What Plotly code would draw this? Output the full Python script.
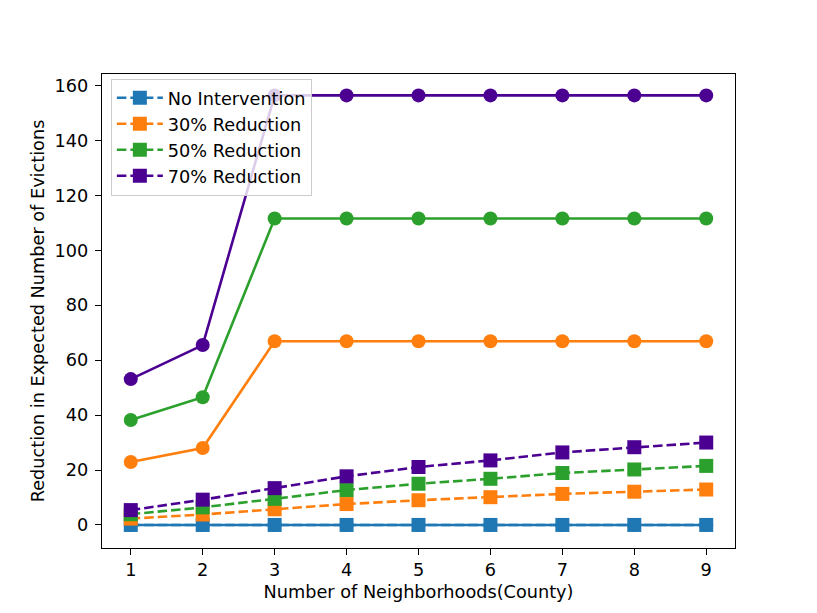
import plotly.graph_objects as go

x_vals = [1, 2, 3, 4, 5, 6, 7, 8, 9]

# solid lines (circles), unlabeled
solid_none = [0, 0, 0, 0, 0, 0, 0, 0, 0]
solid_30 = [22.9, 28.0, 66.9, 66.9, 66.9, 66.9, 66.9, 66.9, 66.9]
solid_50 = [38.2, 46.5, 111.6, 111.6, 111.6, 111.6, 111.6, 111.6, 111.6]
solid_70 = [53.1, 65.5, 156.4, 156.4, 156.4, 156.4, 156.4, 156.4, 156.4]

# dashed lines (squares), labeled
dashed_none = [0, 0, 0, 0, 0, 0, 0, 0, 0]
dashed_30 = [2.3, 3.8, 5.7, 7.6, 9.0, 10.1, 11.3, 12.1, 12.9]
dashed_50 = [3.9, 6.4, 9.5, 12.7, 15.0, 16.8, 18.9, 20.2, 21.5]
dashed_70 = [5.4, 9.2, 13.4, 17.7, 21.1, 23.5, 26.4, 28.3, 30.0]

labels = ["No Intervention", "30% Reduction", "50% Reduction", "70% Reduction"]
colors = ["#1f77b4", "#ff7f0e", "#2ca02c", "#4b0092"]
solid_series = [solid_none, solid_30, solid_50, solid_70]
dashed_series = [dashed_none, dashed_30, dashed_50, dashed_70]

x_ticks = [1, 2, 3, 4, 5, 6, 7, 8, 9]
y_ticks = [0, 20, 40, 60, 80, 100, 120, 140, 160]

FONT = "DejaVu Sans"
FS = 17.7
fig = go.Figure()

for lab, col, s, d in zip(labels, colors, solid_series, dashed_series):
    fig.add_trace(go.Scatter(
        x=x_vals, y=s, mode="lines+markers", showlegend=False,
        line=dict(color=col, width=2.6),
        marker=dict(symbol="circle", size=14, color=col),
        hoverinfo="skip",
    ))
    fig.add_trace(go.Scatter(
        x=x_vals, y=d, mode="lines+markers", name=lab,
        line=dict(color=col, width=2.6, dash="9.5px,4px"),
        marker=dict(symbol="square", size=14, color=col),
    ))

axis_common = dict(
    showline=True, mirror=True, linecolor="black", linewidth=1.4,
    ticks="outside", ticklen=6, tickwidth=1.4, tickcolor="black",
    showgrid=False, zeroline=False,
    tickfont=dict(family=FONT, size=FS, color="black"),
)

fig.update_layout(
    width=817, height=613,
    margin=dict(l=94, r=90, t=66, b=73),
    paper_bgcolor="white", plot_bgcolor="white",
    font=dict(family=FONT, size=FS, color="black"),
    xaxis=dict(range=[0.6, 9.4], tickvals=x_ticks,
               title=dict(text="Number of Neighborhoods(County)", standoff=6,
                          font=dict(family=FONT, size=FS)),
               **axis_common),
    yaxis=dict(range=[-8.4, 164.2], tickvals=y_ticks, ticklabelstandoff=3,
               title=dict(text="Reduction in Expected Number of Evictions", standoff=5,
                          font=dict(family=FONT, size=FS)),
               **axis_common),
    legend=dict(
        x=0.014, y=0.990, xanchor="left", yanchor="top",
        bgcolor="rgba(255,255,255,0.8)", bordercolor="#cccccc", borderwidth=1,
        font=dict(family=FONT, size=FS, color="black"),
        itemwidth=46, tracegroupgap=0,
    ),
)

fig.write_html("out.html")
